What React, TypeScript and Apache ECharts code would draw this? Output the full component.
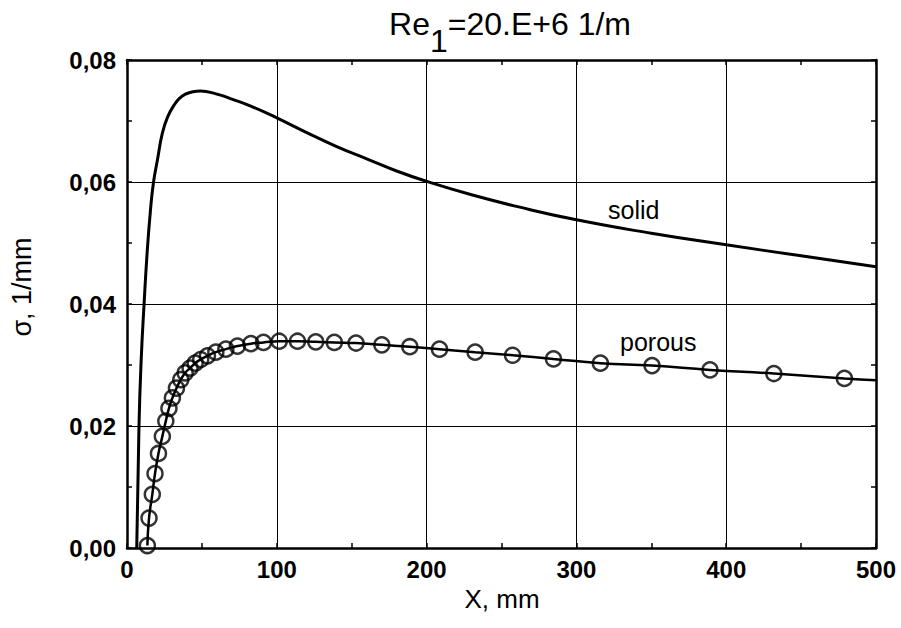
import React, { useEffect, useRef } from "react";
import * as echarts from "echarts";

// Solid plate curve (X in mm, sigma in 1/mm)
const solidX = [6.5, 8, 9.5, 11.4, 13.6, 15.6, 17.6, 20.3, 23.6, 27, 31.4, 35, 39, 44, 49, 60, 70, 85, 100, 120, 140, 160, 180, 200, 230, 260, 300, 350, 400, 450, 500];
const solidY = [0, 0.02, 0.031, 0.04, 0.049, 0.0552, 0.0598, 0.0636, 0.068, 0.0706, 0.0726, 0.0737, 0.0744, 0.0748, 0.0749, 0.0744, 0.0736, 0.0722, 0.0705, 0.0681, 0.0658, 0.0638, 0.0618, 0.0601, 0.0579, 0.056, 0.0538, 0.0516, 0.0497, 0.0479, 0.0461];

// Porous plate: circle markers
const porousX = [13.6, 14.7, 16.9, 18.7, 21, 23.6, 25.9, 28, 30.3, 33, 35.9, 38.8, 42.1, 45.5, 49.2, 53.7, 59.3, 66, 73.7, 82.7, 91.1, 101.6, 113.8, 126, 138.4, 152.9, 170.1, 188.8, 208.6, 232.4, 257.4, 284.7, 316, 350.5, 389.2, 431.8, 478.9];
const porousY = [0.0004, 0.0049, 0.0088, 0.0122, 0.0155, 0.0183, 0.0208, 0.0229, 0.0246, 0.0262, 0.0276, 0.0287, 0.0295, 0.0303, 0.0309, 0.0315, 0.0321, 0.0326, 0.0331, 0.0335, 0.0337, 0.0339, 0.0339, 0.0338, 0.0337, 0.0336, 0.0333, 0.033, 0.0326, 0.0321, 0.0316, 0.031, 0.0303, 0.0299, 0.0292, 0.0286, 0.0278];
// Porous curve end point at the right frame
const porousEndX = [500];
const porousEndY = [0.0275];

const xTickValues = [0, 100, 200, 300, 400, 500];
const yTickValues = [0, 0.02, 0.04, 0.06, 0.08];

const FONT = "'Liberation Sans', Arial, Helvetica, sans-serif";

export default function App() {
  const ref = useRef<HTMLDivElement>(null);

  useEffect(() => {
    const chart = echarts.init(ref.current as HTMLDivElement, null, { renderer: "svg" });

    const solidData = solidX.map((x, i) => [x, solidY[i]]);
    const circleData = porousX.map((x, i) => [x, porousY[i]]);
    const porousLine = circleData.concat(porousEndX.map((x, i) => [x, porousEndY[i]]));

    const frameLine = { color: "#000", width: 2.5 };
    const tickStyle = { color: "#000", width: 1.5 };

    const baseX = {
      type: "value" as const,
      min: xTickValues[0],
      max: xTickValues[xTickValues.length - 1],
      interval: 100,
      axisLine: { show: true, onZero: false, lineStyle: frameLine },
      axisTick: { show: true, inside: true, length: 5, lineStyle: tickStyle },
      minorTick: { show: true, splitNumber: 2, length: 5, lineStyle: tickStyle },
    };
    const baseY = {
      type: "value" as const,
      min: yTickValues[0],
      max: yTickValues[yTickValues.length - 1],
      interval: 0.02,
      axisLine: { show: true, onZero: false, lineStyle: frameLine },
      axisTick: { show: true, inside: true, length: 5, lineStyle: tickStyle },
      minorTick: { show: true, splitNumber: 2, length: 5, lineStyle: tickStyle },
    };

    chart.setOption({
      animation: false,
      backgroundColor: "#fff",
      grid: { left: 127, right: 25, top: 60, bottom: 80, containLabel: false },
      xAxis: [
        {
          ...baseX,
          position: "bottom",
          axisLabel: {
            show: true,
            color: "#000",
            fontFamily: FONT,
            fontSize: 24,
            fontWeight: "bold",
            margin: 9,
          },
          splitLine: { show: true, lineStyle: { color: "#000", width: 1 } },
        },
        {
          ...baseX,
          position: "top",
          axisLabel: { show: false },
          splitLine: { show: false },
        },
      ],
      yAxis: [
        {
          ...baseY,
          position: "left",
          axisLabel: {
            show: true,
            color: "#000",
            fontFamily: FONT,
            fontSize: 24,
            fontWeight: "bold",
            margin: 11,
            formatter: (v: number) => v.toFixed(2).replace(".", ","),
          },
          splitLine: { show: true, lineStyle: { color: "#000", width: 1 } },
        },
        {
          ...baseY,
          position: "right",
          axisLabel: { show: false },
          splitLine: { show: false },
        },
      ],
      series: [
        {
          name: "solid",
          type: "line",
          data: solidData,
          showSymbol: false,
          smooth: 0.5,
          lineStyle: { color: "#000", width: 3 },
          z: 3,
        },
        {
          name: "porous line",
          type: "line",
          data: porousLine,
          showSymbol: false,
          smooth: 0.5,
          lineStyle: { color: "#000", width: 2.5 },
          z: 3,
        },
        {
          name: "porous",
          type: "scatter",
          data: circleData,
          symbol: "circle",
          symbolSize: 15,
          itemStyle: { color: "rgba(0,0,0,0)", borderColor: "#000", borderWidth: 2.5 },
          z: 4,
        },
      ],
      graphic: [
        {
          type: "text",
          x: 510,
          y: 8,
          style: {
            text: "{m|Re}{s|1}{m|=20.E+6 1/m}",
            align: "center",
            verticalAlign: "top",
            rich: {
              m: { fontSize: 32, fontFamily: FONT, fill: "#000", lineHeight: 32, verticalAlign: "top" },
              s: { fontSize: 32, fontFamily: FONT, fill: "#000", lineHeight: 32, verticalAlign: "top", padding: [17, 0, 0, 0] },
            },
          },
        },
        {
          type: "text",
          x: 22,
          y: 287,
          rotation: Math.PI / 2,
          style: {
            text: "σ, 1/mm",
            fontSize: 27,
            fontFamily: FONT,
            fill: "#000",
            align: "center",
            verticalAlign: "middle",
          },
        },
        {
          type: "text",
          x: 502,
          y: 599,
          style: {
            text: "X, mm",
            fontSize: 26,
            fontFamily: FONT,
            fill: "#000",
            align: "center",
            verticalAlign: "middle",
          },
        },
        {
          type: "text",
          x: 608,
          y: 210,
          style: {
            text: "solid",
            fontSize: 25,
            fontFamily: FONT,
            fill: "#000",
            align: "left",
            verticalAlign: "middle",
          },
        },
        {
          type: "text",
          x: 620,
          y: 342,
          style: {
            text: "porous",
            fontSize: 25,
            fontFamily: FONT,
            fill: "#000",
            align: "left",
            verticalAlign: "middle",
          },
        },
      ],
    });

    return () => chart.dispose();
  }, []);

  return (
    <div
      ref={ref}
      style={{ position: "fixed", left: 0, top: 0, width: 901, height: 628, background: "#fff" }}
    />
  );
}
